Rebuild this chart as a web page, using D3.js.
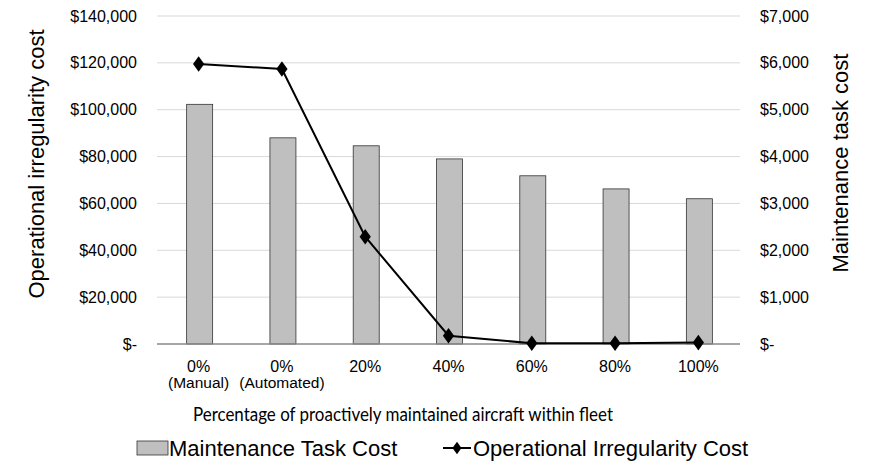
<!DOCTYPE html>
<html>
<head>
<meta charset="utf-8">
<script src="https://cdn.jsdelivr.net/npm/d3@7"></script>
<style>
  html, body { margin: 0; padding: 0; background: #fff; }
  svg { display: block; }
  text { font-family: "Liberation Sans", Arial, sans-serif; fill: #000; }
</style>
</head>
<body>
<svg id="chart" width="878" height="462"></svg>
<script>
// Categories along the x axis (first line, second line)
const categories = ["0%", "0% ", "20%", "40%", "60%", "80%", "100%"];
const categoryLabels = ["0%", "0%", "20%", "40%", "60%", "80%", "100%"];
const categorySubLabels = ["(Manual)", "(Automated)", "", "", "", "", ""];

// Maintenance task cost (right axis, bars)
const maintenanceCost = [5115, 4400, 4230, 3950, 3590, 3310, 3100];

// Operational irregularity cost (left axis, line)
const irregularityCost = [119500, 117400, 45800, 3550, 300, 350, 600];

// Axis ticks
const leftTicks = [0, 20000, 40000, 60000, 80000, 100000, 120000, 140000];
const rightTicks = [0, 1000, 2000, 3000, 4000, 5000, 6000, 7000];

const svg = d3.select("#chart");
const margin = { left: 157, right: 138, top: 16, bottom: 118 };
const W = 878, H = 462;
const x0 = margin.left, x1 = W - margin.right;
const y0 = H - margin.bottom, y1 = margin.top;

const x = d3.scaleBand().domain(categories).range([x0, x1]).paddingInner(0).paddingOuter(0);
const yL = d3.scaleLinear().domain([0, 140000]).range([y0, y1]);
const yR = d3.scaleLinear().domain([0, 7000]).range([y0, y1]);

const money = v => v === 0 ? "$-" : "$" + d3.format(",")(v);

// Gridlines
svg.append("g").selectAll("line").data(leftTicks.filter(t => t > 0)).join("line")
  .attr("x1", x0).attr("x2", x1)
  .attr("y1", d => yL(d)).attr("y2", d => yL(d))
  .attr("stroke", "#d9d9d9").attr("stroke-width", 1);

// Left axis labels
svg.append("g").selectAll("text").data(leftTicks).join("text")
  .attr("x", x0 - 20).attr("y", d => yL(d)).attr("dy", "0.35em")
  .attr("text-anchor", "end").style("font-size", "16px")
  .text(d => money(d));

// Right axis labels
svg.append("g").selectAll("text").data(rightTicks).join("text")
  .attr("x", x1 + 20).attr("y", d => yR(d)).attr("dy", "0.35em")
  .attr("text-anchor", "start").style("font-size", "16px")
  .text(d => money(d));

// Bars
const barW = 26;
svg.append("g").selectAll("rect").data(maintenanceCost).join("rect")
  .attr("x", (d, i) => x(categories[i]) + x.bandwidth() / 2 - barW / 2 + 1)
  .attr("y", d => yR(d))
  .attr("width", barW)
  .attr("height", d => y0 - yR(d))
  .attr("fill", "#bfbfbf").attr("stroke", "#333").attr("stroke-width", 0.8);

// Baseline
svg.append("line").attr("x1", x0).attr("x2", x1).attr("y1", y0).attr("y2", y0)
  .attr("stroke", "#888").attr("stroke-width", 1.3);

// Line series
const cx = i => x(categories[i]) + x.bandwidth() / 2;
const line = d3.line().x((d, i) => cx(i)).y(d => yL(d));
svg.append("path").datum(irregularityCost)
  .attr("d", line).attr("fill", "none").attr("stroke", "#000").attr("stroke-width", 2);

const diamond = d3.symbol().type(d3.symbolDiamond).size(70);
svg.append("g").selectAll("path").data(irregularityCost).join("path")
  .attr("d", diamond)
  .attr("transform", (d, i) => `translate(${cx(i)},${yL(d)}) scale(1.25,1)`)
  .attr("fill", "#000");

// X tick labels
const xt = svg.append("g");
xt.selectAll("text.main").data(categoryLabels).join("text").attr("class", "main")
  .attr("x", (d, i) => cx(i)).attr("y", 372)
  .attr("text-anchor", "middle").style("font-size", "16px").text(d => d);
xt.selectAll("text.sub").data(categorySubLabels).join("text").attr("class", "sub")
  .attr("x", (d, i) => cx(i)).attr("y", 388)
  .attr("text-anchor", "middle").style("font-size", "15.5px").text(d => d);

// Axis titles
svg.append("text").attr("x", 403).attr("y", 421).attr("text-anchor", "middle")
  .attr("textLength", 420).attr("lengthAdjust", "spacingAndGlyphs")
  .style("font-family", "Lato, sans-serif").style("font-size", "19.5px")
  .text("Percentage of proactively maintained aircraft within fleet");

svg.append("text").attr("transform", "translate(44,164) rotate(-90)")
  .attr("text-anchor", "middle").style("font-size", "22px")
  .text("Operational irregularity cost");

svg.append("text").attr("transform", "translate(848,163) rotate(-90)")
  .attr("text-anchor", "middle").style("font-size", "22px")
  .text("Maintenance task cost");

// Legend
const lg = svg.append("g");
lg.append("rect").attr("x", 137).attr("y", 441).attr("width", 31).attr("height", 14)
  .attr("fill", "#bfbfbf").attr("stroke", "#333").attr("stroke-width", 0.8);
lg.append("text").attr("x", 169).attr("y", 456).style("font-size", "22px").text("Maintenance Task Cost");
lg.append("line").attr("x1", 443).attr("x2", 471).attr("y1", 448).attr("y2", 448)
  .attr("stroke", "#000").attr("stroke-width", 2);
lg.append("path").attr("d", d3.symbol().type(d3.symbolDiamond).size(45)())
  .attr("transform", "translate(457,448) scale(1.25,1)").attr("fill", "#000");
lg.append("text").attr("x", 473).attr("y", 456).style("font-size", "22px").text("Operational Irregularity Cost");
</script>
</body>
</html>
